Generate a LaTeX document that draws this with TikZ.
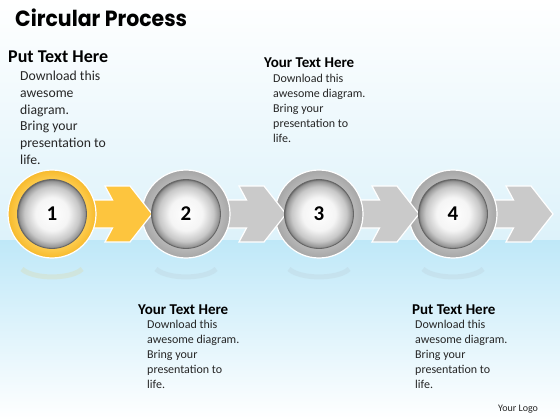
\documentclass[tikz,border=0pt]{standalone}
\usepackage{fontspec}
\setmainfont{Carlito}
\newfontfamily\titlefont{Poppins}
\definecolor{ylw}{HTML}{FDC53E}
\definecolor{ylwring}{HTML}{F7BA2C}
\definecolor{ylwlight}{HTML}{FFD158}
\definecolor{gry}{HTML}{CACACA}
\definecolor{gryring}{HTML}{A6A6A6}
\definecolor{grylight}{HTML}{BDBDBD}
\definecolor{skytop}{HTML}{DDF2FA}
\definecolor{skyband}{HTML}{BFE8F8}
\pgfdeclareradialshading{ball}{\pgfpoint{0bp}{0bp}}{color(0bp)=(white); color(12bp)=(white!96!black); color(20bp)=(black!22); color(24bp)=(black!42); color(25bp)=(black!58); color(50bp)=(black!58)}
\pgfdeclareradialshading{ringy}{\pgfpoint{0bp}{0bp}}{color(0bp)=(ylwlight); color(18bp)=(ylwlight); color(25bp)=(ylwring); color(50bp)=(ylwring)}
\pgfdeclareradialshading{ringg}{\pgfpoint{0bp}{0bp}}{color(0bp)=(grylight); color(18bp)=(grylight); color(25bp)=(gryring); color(50bp)=(gryring)}
\tikzset{
  ring/.style={circle, minimum size=88pt, inner sep=0pt, draw=white, line width=1.2pt},
  disk/.style={circle, minimum size=69pt, inner sep=0pt, shading=ball, draw=black!60, line width=0.8pt, font=\bfseries\fontsize{21}{21}\selectfont},
  chev/.style={draw=white, line width=1.2pt, line join=miter},
  head/.style={anchor=base west, inner sep=0pt, font=\bfseries},
  body/.style={anchor=north west, inner sep=0pt, align=left, text=black!85},
  refl/.style={line width=5pt, opacity=0.13},
}
\begin{document}
\begin{tikzpicture}[x=1pt,y=-1pt]
\useasboundingbox (0,0) rectangle (560,420);
% background
\fill[top color=white, bottom color=skytop] (0,0) rectangle (560,240);
\fill[top color=skyband, bottom color=white] (0,240) rectangle (560,420);
% centres
\coordinate (p1) at (52,214);
\coordinate (p2) at (186,214);
\coordinate (p3) at (319,214);
\coordinate (p4) at (453,214);
% reflections
\foreach \p/\c in {p1/ylwring,p2/gryring,p3/gryring,p4/gryring}{
  \draw[refl, \c] ([xshift=-30pt,yshift=-55pt]\p) arc[start angle=200, end angle=340, x radius=32pt, y radius=12pt];
}
% arrows and rings, drawn from right to left
\foreach \p/\fc/\rs/\n in {p4/gry/ringg/4,p3/gry/ringg/3,p2/gry/ringg/2,p1/ylw/ringy/1}{
  \begin{scope}[shift={(\p)}]
    \filldraw[chev, fill=\fc] (40,-14) -- (60.5,-14) -- (53,-28) -- (78,-28) -- (100,0)
      -- (78,28) -- (53,28) -- (60.5,14) -- (40,14) -- cycle;
  \end{scope}
  \node[ring, shading=\rs] (r\n) at (\p) {};
}
% inner disks
\node[disk] (c1) at (p1) {1};
\node[disk] (c2) at (p2) {2};
\node[disk] (c3) at (p3) {3};
\node[disk] (c4) at (p4) {4};
% title
\node[anchor=base west, inner sep=0pt, font=\titlefont\bfseries\fontsize{22}{22}\selectfont] (title) at (15,27) {\scalebox{0.93}[1]{Circular Process}};
% text blocks
\node[head, font=\bfseries\fontsize{18}{18}\selectfont] (h1) at (8,63) {Put Text Here};
\node[body, font=\fontsize{13.7}{16.7}\selectfont] (b1) at (20,71) {Download this\\awesome\\diagram.\\Bring your\\presentation to\\life.};
\node[head, font=\bfseries\fontsize{15}{15}\selectfont] (h2) at (264,67) {Your Text Here};
\node[body, font=\fontsize{12}{15}\selectfont] (b2) at (273,74) {Download this\\awesome diagram.\\Bring your\\presentation to\\life.};
\node[head, font=\bfseries\fontsize{15}{15}\selectfont] (h3) at (138,314) {Your Text Here};
\node[body, font=\fontsize{12}{15}\selectfont] (b3) at (147,320) {Download this\\awesome diagram.\\Bring your\\presentation to\\life.};
\node[head, font=\bfseries\fontsize{15}{15}\selectfont] (h4) at (412,314) {Put Text Here};
\node[body, font=\fontsize{12}{15}\selectfont] (b4) at (415,320) {Download this\\awesome diagram.\\Bring your\\presentation to\\life.};
\node[anchor=base west, inner sep=0pt, font=\fontsize{10}{10}\selectfont, text=black!85] (logo) at (498,411) {Your Logo};
\end{tikzpicture}
\end{document}
